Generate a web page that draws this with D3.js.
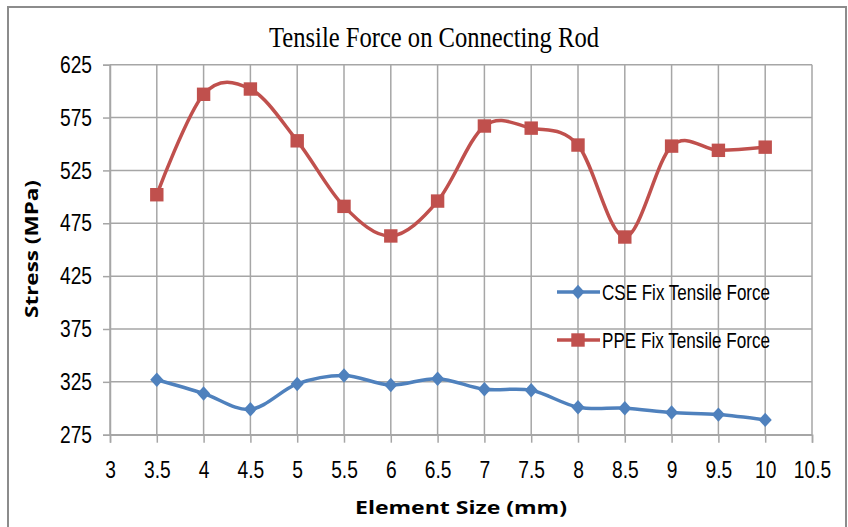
<!doctype html>
<html>
<head>
<style>
  body { margin: 0; background: #fff; }
  #chart text { fill: #000; }
  .grid line { stroke: #a6a6a6; stroke-width: 1.5; }
</style>
</head>
<body>
<svg id="chart"></svg>
<script src="https://d3js.org/d3.v7.min.js"></script>
<script>
var sizes = [3.5, 4, 4.5, 5, 5.5, 6, 6.5, 7, 7.5, 8, 8.5, 9, 9.5, 10];
var cse = [327, 314, 299, 323, 331, 322, 328, 318, 317, 301, 300, 296, 294, 289];
var ppe = [502, 597, 602, 553, 491, 463, 496, 567, 565, 549, 462, 548, 544, 547];
var xTicks = [3, 3.5, 4, 4.5, 5, 5.5, 6, 6.5, 7, 7.5, 8, 8.5, 9, 9.5, 10, 10.5];
var yTicks = [275, 325, 375, 425, 475, 525, 575, 625];
var seriesNames = ["CSE Fix Tensile Force", "PPE Fix Tensile Force"];
var colors = ["#4f81bd", "#c0504d"];

var width = 848, height = 527;
var plotLeft = 110, plotRight = 812, plotTop = 64.7, plotBottom = 434.7;

var svg = d3.select("#chart").attr("width", width).attr("height", height);

// outer frame
svg.append("rect")
  .attr("x", 8).attr("y", 7).attr("width", 838).attr("height", 540)
  .attr("fill", "none").attr("stroke", "#8c8c8c").attr("stroke-width", 2);

var x = d3.scaleLinear().domain([3, 10.5]).range([plotLeft, plotRight]);
var y = d3.scaleLinear().domain([275, 625]).range([plotBottom, plotTop]);

// gridlines
svg.append("g").attr("class", "grid")
  .selectAll("line").data(yTicks).enter().append("line")
  .attr("x1", plotLeft).attr("x2", plotRight)
  .attr("y1", d => y(d)).attr("y2", d => y(d));
svg.append("g").attr("class", "grid")
  .selectAll("line").data(xTicks).enter().append("line")
  .attr("x1", d => x(d)).attr("x2", d => x(d))
  .attr("y1", plotTop).attr("y2", plotBottom);

var yAxis = svg.append("g")
  .attr("transform", "translate(" + plotLeft + ",0)")
  .call(d3.axisLeft(y).tickValues(yTicks).tickSize(7).tickPadding(11).tickFormat(d3.format("d")));
var xAxis = svg.append("g")
  .attr("transform", "translate(0," + plotBottom + ")")
  .call(d3.axisBottom(x).tickValues(xTicks).tickSize(8).tickPadding(18).tickFormat(d => String(d)));
[xAxis, yAxis].forEach(function (a) {
  a.attr("font-size", 24).attr("font-family", "'Liberation Sans', Arial, sans-serif");
  a.select(".domain").attr("stroke", "#a6a6a6").attr("stroke-width", 1.5);
  a.selectAll(".tick line").attr("stroke", "#a6a6a6").attr("stroke-width", 1.5);
  // condensed look like the original
  a.selectAll(".tick text").each(function () {
    var w = this.getComputedTextLength();
    d3.select(this).attr("textLength", w * 0.8).attr("lengthAdjust", "spacingAndGlyphs");
  });
});

var line = d3.line()
  .x(d => x(d[0])).y(d => y(d[1]))
  .curve(d3.curveCatmullRom.alpha(0));

var series = [cse, ppe].map(vals => sizes.map((s, i) => [s, vals[i]]));

series.forEach(function (pts, k) {
  svg.append("path").datum(pts)
    .attr("d", line)
    .attr("fill", "none").attr("stroke", colors[k]).attr("stroke-width", 3.5);
});

// markers
var diamond = d3.symbol().type(d3.symbolDiamond2).size(110);
var square = d3.symbol().type(d3.symbolSquare).size(180);
svg.append("g").selectAll("path").data(series[0]).enter().append("path")
  .attr("d", diamond)
  .attr("transform", d => "translate(" + x(d[0]) + "," + y(d[1]) + ") scale(1,1.1)")
  .attr("fill", colors[0]);
svg.append("g").selectAll("path").data(series[1]).enter().append("path")
  .attr("d", square)
  .attr("transform", d => "translate(" + x(d[0]) + "," + y(d[1]) + ")")
  .attr("fill", colors[1]);

// legend
var legend = svg.append("g");
seriesNames.forEach(function (name, k) {
  var ly = 292 + k * 48;
  legend.append("line").attr("x1", 557).attr("x2", 600).attr("y1", ly).attr("y2", ly)
    .attr("stroke", colors[k]).attr("stroke-width", 3.5);
  legend.append("path")
    .attr("d", k === 0 ? diamond : square)
    .attr("transform", "translate(578," + ly + ")" + (k === 0 ? " scale(1,1.1)" : ""))
    .attr("fill", colors[k]);
  legend.append("text").attr("x", 602).attr("y", ly + 8)
    .attr("font-family", "'Liberation Sans', Arial, sans-serif")
    .attr("font-size", 22)
    .attr("textLength", 168).attr("lengthAdjust", "spacingAndGlyphs")
    .text(name);
});

// titles
svg.append("text")
  .attr("x", 434).attr("y", 47).attr("text-anchor", "middle")
  .attr("font-family", "'Liberation Serif', 'Times New Roman', serif")
  .attr("font-size", 30)
  .attr("textLength", 330).attr("lengthAdjust", "spacingAndGlyphs")
  .text("Tensile Force on Connecting Rod");
svg.append("text")
  .attr("transform", "translate(38,249) rotate(-90)")
  .attr("text-anchor", "middle")
  .attr("font-family", "'Open Sans', sans-serif").attr("font-weight", "bold")
  .attr("font-size", 17)
  .attr("textLength", 138).attr("lengthAdjust", "spacingAndGlyphs")
  .text("Stress (MPa)");
svg.append("text")
  .attr("x", 461).attr("y", 514).attr("text-anchor", "middle")
  .attr("font-family", "'Open Sans', sans-serif").attr("font-weight", "bold")
  .attr("font-size", 17)
  .attr("textLength", 212).attr("lengthAdjust", "spacingAndGlyphs")
  .text("Element Size (mm)");
</script>
</body>
</html>
